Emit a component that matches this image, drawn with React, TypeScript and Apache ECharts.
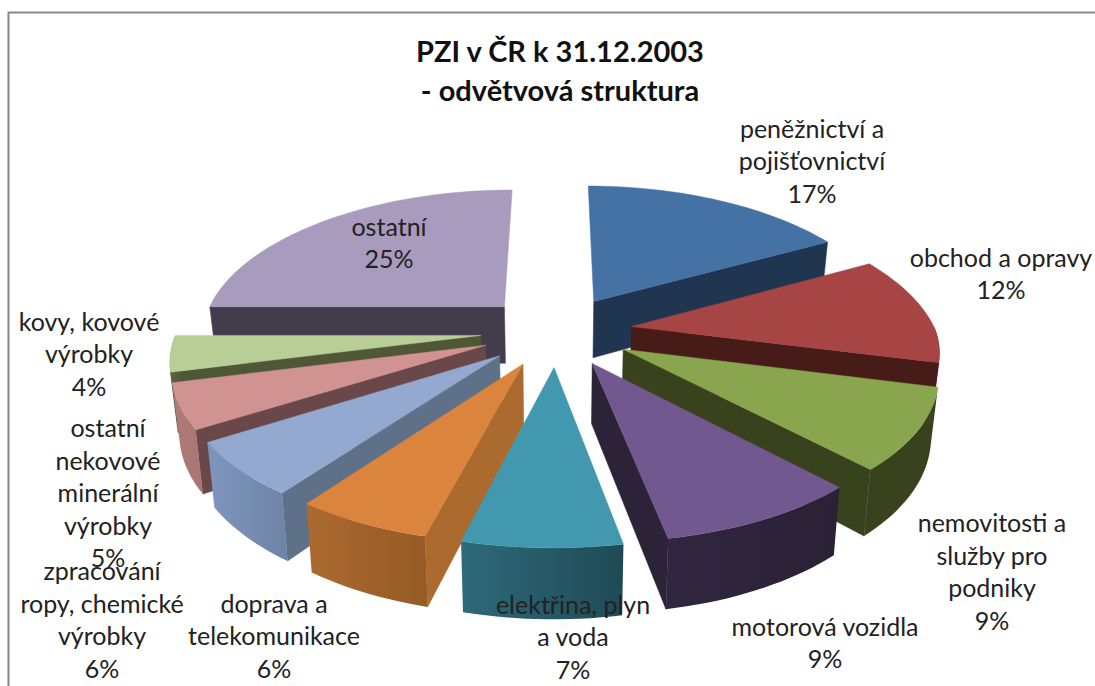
import React, { useEffect, useRef } from "react";
import * as echarts from "echarts";

const categories = [
  "peněžnictví a\npojišťovnictví",
  "obchod a opravy",
  "nemovitosti a\nslužby pro\npodniky",
  "motorová vozidla",
  "elektřina, plyn\na voda",
  "doprava a\ntelekomunikace",
  "zpracování\nropy, chemické\nvýrobky",
  "ostatní\nnekovové\nminerální\nvýrobky",
  "kovy, kovové\nvýrobky",
  "ostatní",
];
const shares = [17, 12, 9, 9, 7, 6, 6, 5, 4, 25];
const topColors = ["#4472a4", "#a64543", "#89a54e", "#71588f", "#4198af", "#db843d", "#93a9cf", "#d19392", "#b9cd96", "#a99bbd"];
const wallColors = ["#20354f", "#471b18", "#38431e", "#2c2338", "#24505c", "#ab6a2e", "#5f7089", "#6a4749", "#4e5736", "#423c4d"];
const rimLeftColors = ["#20354f", "#471b18", "#38431e", "#30263f", "#2e6a7a", "#ac6a2f", "#7f95bb", "#b07c7a", "#5a6540", "#423c4d"];
const rimRightColors = ["#20354f", "#471b18", "#38431e", "#2a2136", "#1f4a55", "#955a25", "#6d84a8", "#a87573", "#4e5736", "#423c4d"];
const labelCenters: [number, number][] = [
  [812, 160], [1001, 273], [992, 571], [825, 642], [573, 636],
  [274, 635], [102, 619], [108, 492], [89, 353], [389, 242],
];

const CX = 556.5, CY = 331, RX = 304, RY = 141, KX_BACK = 0.18, KX_FRONT = 0.15, KY = 0.15, DEPTH = 58, EXPLODE = 0.25, BOTTOM_SHRINK = 0.98;
const TOTAL = shares.reduce((a, b) => a + b, 0);
const starts = shares.map((_, i) => shares.slice(0, i).reduce((a, b) => a + b, 0));

function project(u: number, v: number, z: number): number[] {
  const sx = 1 / (1 - (v < 0 ? KX_BACK : KX_FRONT) * v);
  const sy = 1 / (1 - KY * v);
  return [CX + RX * u * sx * (z ? BOTTOM_SHRINK : 1), CY + RY * v * sy + DEPTH * sy * z];
}
const angleOf = (share: number) => (share / TOTAL) * Math.PI * 2;

function offsetOf(i: number): number[] {
  const mid = angleOf(starts[i] + shares[i] / 2);
  return [EXPLODE * Math.sin(mid), -EXPLODE * Math.cos(mid)];
}
function rimPoint(i: number, a: number, z: number): number[] {
  const [ou, ov] = offsetOf(i);
  return project(ou + Math.sin(a), ov - Math.cos(a), z);
}
function arcAngles(a0: number, a1: number): number[] {
  const n = Math.max(2, Math.ceil((a1 - a0) / 0.03));
  const out: number[] = [];
  for (let j = 0; j <= n; j++) out.push(a0 + ((a1 - a0) * j) / n);
  return out;
}
const drawOrder = shares
  .map((_, i) => i)
  .sort((a, b) => offsetOf(a)[1] - offsetOf(b)[1]);

function renderSlice(_params: any, api: any) {
  const i = api.value(1) as number;
  const a0 = angleOf(starts[i]);
  const a1 = a0 + angleOf(api.value(0) as number);
  const [ou, ov] = offsetOf(i);
  const children: any[] = [];
  const wall = (a: number) => {
    children.push({
      type: "polygon",
      shape: { points: [project(ou, ov, 0), rimPoint(i, a, 0), rimPoint(i, a, 1), project(ou, ov, 1)] },
      style: { fill: wallColors[i], stroke: wallColors[i], lineWidth: 0.5 },
    });
  };
  if (Math.sin(a0) < 0) wall(a0);
  if (Math.sin(a1) > 0) wall(a1);
  const r0 = Math.max(a0, Math.PI / 2);
  const r1 = Math.min(a1, (3 * Math.PI) / 2);
  if (r1 > r0) {
    const arc = arcAngles(r0, r1);
    const pts = [...arc.map((a) => rimPoint(i, a, 0)), ...arc.slice().reverse().map((a) => rimPoint(i, a, 1))];
    children.push({
      type: "polygon",
      shape: { points: pts },
      style: {
        fill: new echarts.graphic.LinearGradient(0, 0, 1, 0, [
          { offset: 0, color: rimLeftColors[i] },
          { offset: 1, color: rimRightColors[i] },
        ]),
      },
    });
  }
  children.push({
    type: "polygon",
    shape: { points: [project(ou, ov, 0), ...arcAngles(a0, a1).map((a) => rimPoint(i, a, 0))] },
    style: { fill: topColors[i], stroke: topColors[i], lineWidth: 0.5 },
  });
  return { type: "group", children };
}

export default function App() {
  const ref = useRef<HTMLDivElement>(null);
  useEffect(() => {
    const chart = echarts.init(ref.current!, null, { renderer: "svg" });
    const FONT = "Lato";
    chart.setOption({
      animation: false,
      backgroundColor: "#ffffff",
      title: {
        text: "PZI v ČR k 31.12.2003\n- odvětvová struktura",
        left: 555,
        top: 26,
        textAlign: "center",
        textStyle: { fontFamily: FONT, fontSize: 29, fontWeight: "bold", color: "#111", lineHeight: 39 },
      },
      series: [
        {
          type: "custom",
          coordinateSystem: "none",
          renderItem: renderSlice,
          silent: true,
          data: drawOrder.map((i) => [shares[i], i]),
        },
      ],
      graphic: {
        elements: [
          {
            type: "polyline",
            z: 50,
            silent: true,
            shape: { points: [[8.5, 686], [8.5, 12.5], [1095, 12.5]] },
            style: { stroke: "#888888", lineWidth: 2, fill: "none" },
          },
          ...categories.map((name, i) => ({
            type: "text",
            z: 100,
            silent: true,
            x: labelCenters[i][0],
            y: labelCenters[i][1],
            style: {
              text: `${name}\n${shares[i]}%`,
              fontFamily: FONT,
              fontSize: 25,
              lineHeight: 32.5,
              fill: "#222",
              align: "center",
              verticalAlign: "middle",
            },
          })),
        ],
      },
    });
    return () => chart.dispose();
  }, []);
  return <div ref={ref} style={{ position: "fixed", left: 0, top: 0, width: 1095, height: 686 }} />;
}
